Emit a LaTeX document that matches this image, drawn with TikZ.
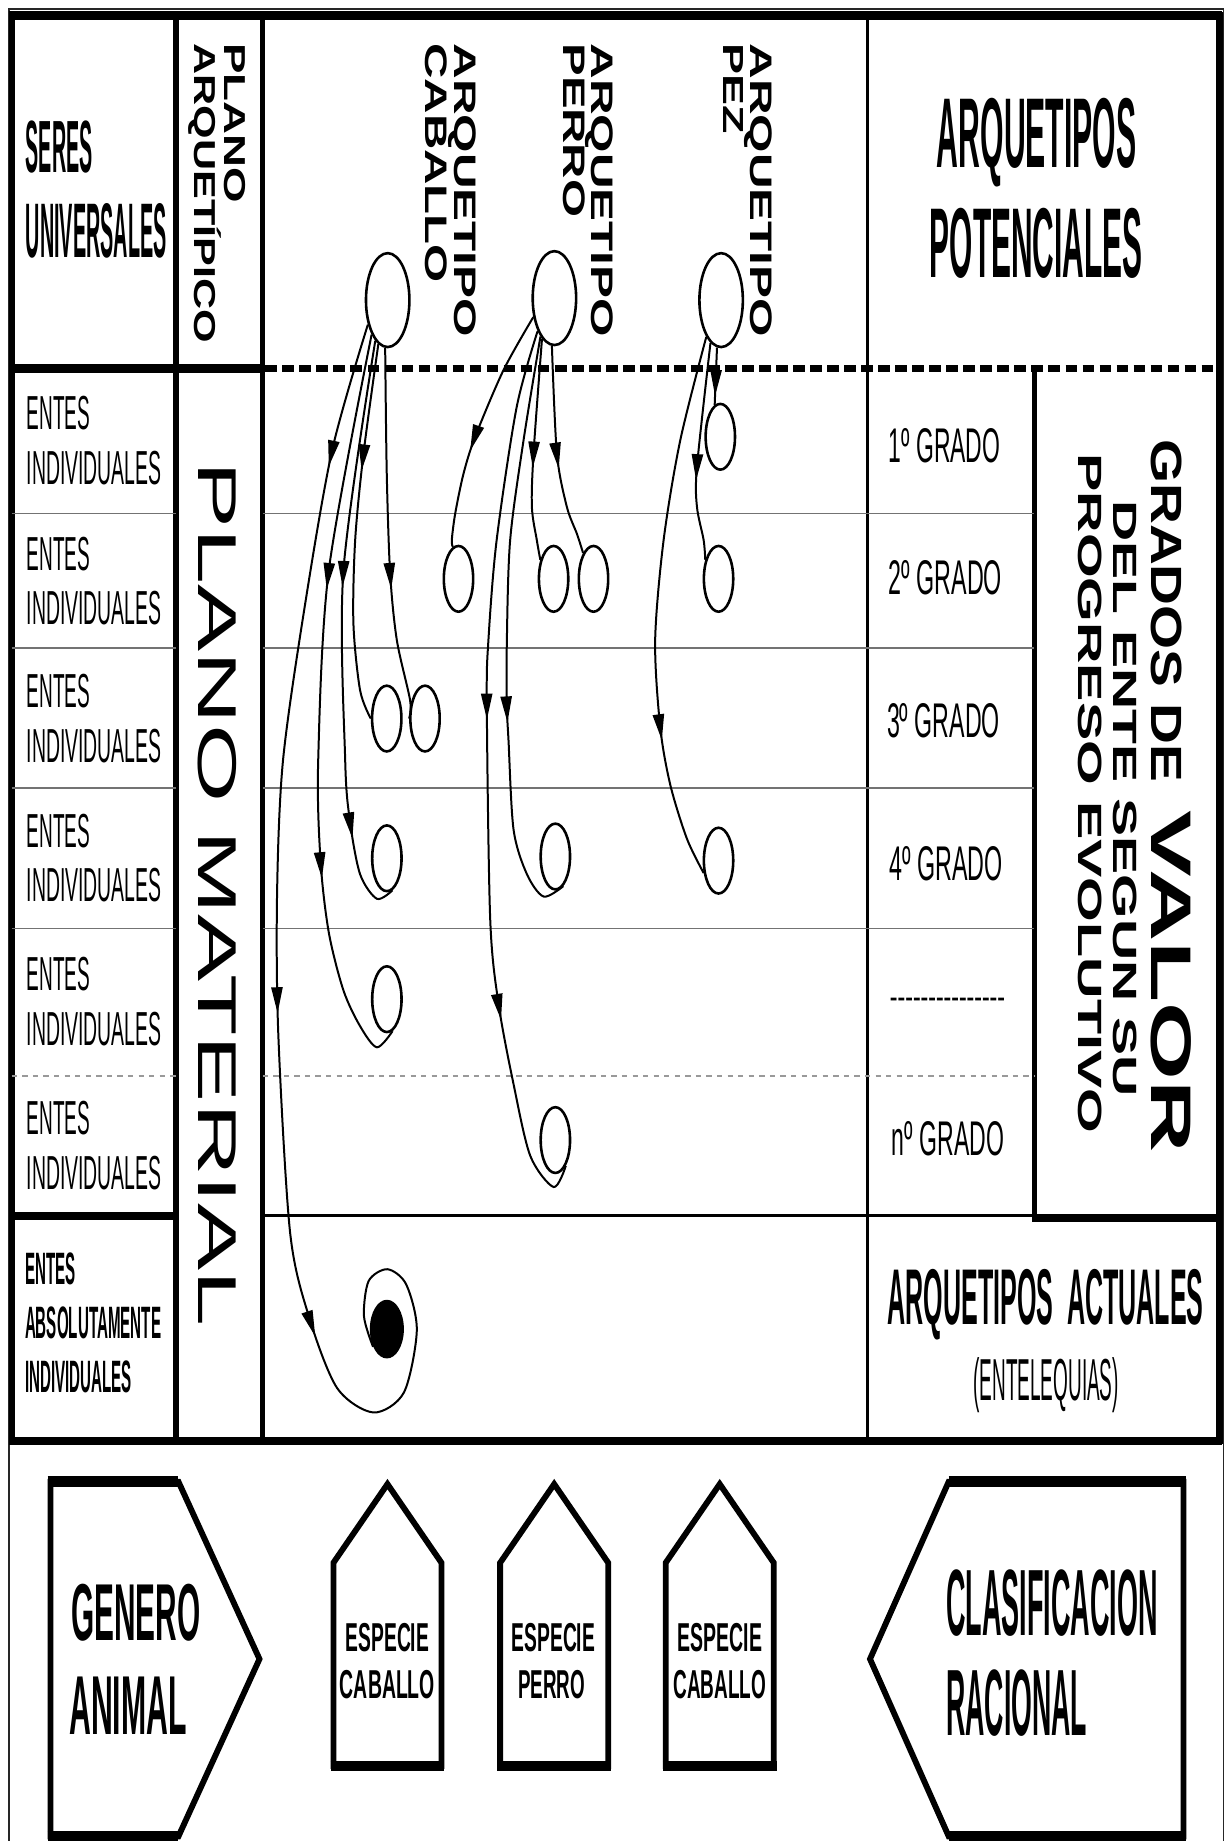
\documentclass[tikz,border=0pt]{standalone}
\usepackage{fontspec}
\setmainfont{Liberation Sans}
\usetikzlibrary{shapes.geometric,arrows.meta,decorations.markings}
\newcommand{\fitbox}[3]{\resizebox{#1pt}{#2pt}{#3}}
\newcommand{\fitw}[2]{\resizebox{#1pt}{!}{#2}}
\tikzset{
  tb/.style={inner sep=0pt, outer sep=0pt, anchor=base west},
  tbc/.style={inner sep=0pt, outer sep=0pt, anchor=base},
  tv/.style={inner sep=0pt, outer sep=0pt, anchor=north west, rotate=-90},
  arch/.style={ellipse, draw, line width=2.2pt, minimum width=37pt, minimum height=80pt, inner sep=0pt},
  ente/.style={ellipse, draw, line width=2.2pt, minimum width=25pt, minimum height=56pt, inner sep=0pt},
  flow/.style={line width=1.7pt},
  am/.style={postaction={decorate, decoration={markings, mark=at position #1 with {\fill[black] (2pt,0pt) -- (-20pt,5pt) -- (-20pt,-5pt) -- cycle;}}}},
  rowline/.style={line width=1.3pt, black!55},
  rowdash/.style={line width=1.3pt, black!40, dash pattern=on 4.5pt off 4.5pt},
  shp/.style={line width=5pt, line join=miter},
}
\begin{document}
\begin{tikzpicture}[x=1pt,y=-1pt]
\useasboundingbox (0,0) rectangle (1048,1568);
\fill[white] (0,0) rectangle (1048,1568);
% outer thin frame
\draw[line width=1.5pt, black!85] (7.5,1580) -- (7.5,7.5) -- (1042,7.5) -- (1042,1580);
% table frame
\draw[line width=5.5pt] (10,13) rectangle (1038.5,1227);
\draw[line width=8pt] (7.5,13) -- (1041,13);
\draw[line width=7pt] (7.5,1227) -- (1041,1227);
% columns
\draw[line width=4.5pt] (150,13) -- (150,1227);
\draw[line width=4pt] (223.7,13) -- (223.7,1227);
\draw[line width=3pt] (738.7,13) -- (738.7,1227);
% header bottom
\draw[line width=8pt] (10,314) -- (223.7,314);
\draw[line width=6pt, dash pattern=on 10pt off 4.5pt] (226,313.5) -- (1038,313.5);
% right box
\draw[line width=4pt] (881,313) -- (881,1041);
\draw[line width=7pt] (879,1037.7) -- (1038,1037.7);
% rows
\foreach \yy in {437.5,552,671,791}{
  \draw[rowline] (10,\yy) -- (150,\yy);
  \draw[rowline] (223.7,\yy) -- (881,\yy);
}
\draw[rowdash] (10,916.5) -- (150,916.5);
\draw[rowdash] (223.7,916.5) -- (881,916.5);
\draw[line width=7pt] (10,1035.7) -- (150,1035.7);
\draw[line width=2.5pt] (223.7,1035.3) -- (881,1035.3);

% ---- header texts
\node[tb] (seres) at (22,147) {\fitbox{57}{44}{\bfseries SERES}};
\node[tb] (univ) at (22,219) {\fitbox{120}{46}{\bfseries UNIVERSALES}};
\node[tb] (pot1) at (798,143) {\fitbox{170}{59}{\bfseries ARQUETIPOS}};
\node[tb] (pot2) at (792,236) {\fitbox{181}{59}{\bfseries POTENCIALES}};
\node[tv] (pl1) at (209,37) {\fitbox{136}{18}{\bfseries PLANO}};
\node[tv] (pl2) at (184,37) {\fitbox{255}{18}{\bfseries ARQUET\smash{Í}PICO}};
\node[tv] (ac1) at (406,37) {\fitbox{250}{18.5}{\bfseries ARQUETIPO}};
\node[tv] (ac2) at (381,37) {\fitbox{204}{18.5}{\bfseries CABALLO}};
\node[tv] (ap1) at (522,37) {\fitbox{250}{18.5}{\bfseries ARQUETIPO}};
\node[tv] (ap2) at (498.5,37) {\fitbox{148}{18.5}{\bfseries PERRO}};
\node[tv] (az1) at (658,37) {\fitbox{250}{18.5}{\bfseries ARQUETIPO}};
\node[tv] (az2) at (633,37) {\fitbox{77}{17}{\bfseries PEZ}};
\node[tv] (pm) at (201.5,393) {\fitbox{737}{32.5}{PLANO MATERIAL}};

% ---- left column
\foreach \c [count=\i] in {375,494.5,611.5,730.5,853,975.5}{
  \node[tb] (entes\i) at (22.7,\c-9) {\fitbox{54}{28.4}{ENTES}};
  \node[tb] (indiv\i) at (22.7,\c+37.5) {\fitbox{115}{28.4}{INDIVIDUALES}};
}
\node[tb] (abs1) at (21.3,1094) {\fitbox{43}{27}{\bfseries ENTES}};
\node[tb] (abs2) at (21.3,1140) {\fitbox{116}{27}{\bfseries ABSOLUTAMENTE}};
\node[tb] (abs3) at (21.3,1186) {\fitbox{91}{27}{\bfseries INDIVIDUALES}};

% ---- grados column
\node[tb] (g1) at (757,393.5) {\fitbox{95}{29}{1º GRADO}};
\node[tb] (g2) at (757,506.5) {\fitbox{96.5}{29}{2º GRADO}};
\node[tb] (g3) at (755.5,628.5) {\fitbox{96}{29}{3º GRADO}};
\node[tb] (g4) at (757.7,749.5) {\fitbox{96.5}{29}{4º GRADO}};
\node[tb] (g5) at (758,856) {\fitw{98}{\bfseries {-}{-}{-}{-}{-}{-}{-}{-}{-}{-}{-}{-}{-}{-}{-}}};
\node[tb] (g6) at (759.7,984.5) {\fitbox{95.5}{29}{nº GRADO}};
\node[tv] (gv1) at (1007,374) {\fitbox{292}{26}{\bfseries GRADOS DE}};
\node[tv] (gv2) at (1015,690) {\fitbox{292}{34}{\bfseries VALOR}};
\node[tv] (gv3) at (968.5,426) {\fitbox{508}{20}{\bfseries DEL ENTE SEGUN SU}};
\node[tv] (gv4) at (938.6,386) {\fitbox{579}{20}{\bfseries PROGRESO EVOLUTIVO}};
\node[tb] (act1) at (756,1128) {\fitbox{269}{47}{\bfseries ARQUETIPOS\hspace{0.55em}ACTUALES}};
\node[inner sep=0pt] (act2) at (891,1180) {\resizebox*{124pt}{47pt}{(ENTELEQUIAS)}};

% ---- archetype ellipses
\node[arch] (K0) at (330.2,255.6) {};
\node[arch] (P0) at (472.2,253.9) {};
\node[arch] (Z0) at (614.2,255.6) {};
\node[ente] (za) at (613.5,372) {};
\node[ente] (pa) at (390.5,493) {};
\node[ente] (pb) at (471.5,493) {};
\node[ente] (pc) at (505.5,493) {};
\node[ente] (zb) at (612,493) {};
\node[ente] (ka) at (329.4,612) {};
\node[ente] (kb) at (362,612) {};
\node[ente] (kc) at (329.5,731) {};
\node[ente] (pd) at (473,729.5) {};
\node[ente] (zc) at (612,733) {};
\node[ente] (kd) at (329.5,851) {};
\node[ente] (pe) at (473,971) {};
\node[ellipse, fill=black, minimum width=29pt, minimum height=50pt, inner sep=0pt] (dot) at (329.5,1132) {};

% ---- connectors: caballo
\draw[flow, am=0.104, am=0.5, am=0.735] plot[smooth, tension=0.5] coordinates {(K0.-129) (283,383) (259,520) (241,648) (236,760) (237,880) (247,1049) (263,1121) (287,1182) (318,1203) (344,1186) (355,1133) (346,1094) (330,1081) (314,1091) (310,1121) (dot.-128)};
\draw[flow, am=0.34, am=0.725] plot[smooth, tension=0.5] coordinates {(K0.-115) (280,486) (271,648) (273,733) (280,794) (292.5,843.5) (306.7,874) (321,892) (kd.-80)};
\draw[flow, am=0.42, am=0.85] plot[smooth, tension=0.5] coordinates {(K0.-107) (292.5,486) (294,647.5) (298,699) (306.7,744.6) (321,765.5) (kc.-80)};
\draw[flow, am=0.33] plot[smooth, tension=0.5] coordinates {(K0.-102) (309.6,386.3) (302.5,460) (301,531) (306.7,588) (ka.west)};
\draw[flow, am=0.64] plot[smooth, tension=0.5] coordinates {(K0.-93) (329.4,403.3) (332.3,488.5) (338,545.3) (349.3,596.5) (kb.west)};
% perro
\draw[flow, am=0.59] plot[smooth, tension=0.5] coordinates {(P0.-138) (428.8,315.3) (404.7,372) (394.8,403.3) (387.7,437.4) (384.8,460) (pa.100)};
\draw[flow, am=0.435, am=0.77] plot[smooth, tension=0.5] coordinates {(P0.-117) (440,347) (423,460) (416,545) (414.6,599.3) (417.5,782.6) (424.6,855) (437.4,923.4) (451.6,984.3) (471.5,1011) (pe.-68)};
\draw[flow, am=0.65] plot[smooth, tension=0.5] coordinates {(P0.-110) (445.9,375) (434.5,460) (431.7,545.3) (431.7,600.7) (433.1,630.5) (437.4,706.6) (448.8,744.6) (463,763.6) (pd.-75)};
\draw[flow, am=0.57] plot[smooth, tension=0.5] coordinates {(P0.-107) (454.4,386.3) (453,431.7) (457.2,460) (pb.125)};
\draw[flow, am=0.57] plot[smooth, tension=0.5] coordinates {(P0.-93) (474.3,386.3) (482.8,431.7) (491.5,455) (pc.112)};
% pez
\draw[flow, am=0.74] plot[smooth, tension=0.5] coordinates {(Z0.-112) (579.4,374.9) (565.2,460) (558,545.3) (562.3,619.2) (570.9,668.5) (585,714.2) (zc.-140)};
\draw[flow, am=0.62] plot[smooth, tension=0.5] coordinates {(Z0.-104) (593.6,397.6) (593.6,431.7) (599.3,460) (zb.125)};
\draw[flow, am=0.8] (Z0.-95) -- (za.100);

% ---- bottom shapes
\draw[shp] (43,1262) -- (152,1262) -- (221,1413) -- (152,1564) -- (43,1564) -- cycle;
\draw[line width=9pt] (40.5,1262) -- (152,1262);
\draw[line width=9pt] (40.5,1564) -- (152,1564);
\draw[shp] (284,1504) -- (284,1331) -- (330,1264) -- (376,1331) -- (376,1504) -- cycle;
\draw[line width=9pt] (281.5,1504) -- (378.5,1504);
\draw[shp] (426,1504) -- (426,1331) -- (472,1264) -- (518,1331) -- (518,1504) -- cycle;
\draw[line width=9pt] (423.5,1504) -- (520.5,1504);
\draw[shp] (567,1504) -- (567,1331) -- (613,1264) -- (659,1331) -- (659,1504) -- cycle;
\draw[line width=9pt] (564.5,1504) -- (661.5,1504);
\draw[shp] (1008,1262) -- (808,1262) -- (741,1413) -- (808,1564) -- (1008,1564) -- cycle;
\draw[line width=9pt] (808,1262) -- (1010.5,1262);
\draw[line width=9pt] (808,1564) -- (1010.5,1564);

\node[tb] (gen1) at (60.6,1397) {\fitbox{110}{48}{\bfseries GENERO}};
\node[tb] (gen2) at (59,1477) {\fitbox{100}{49}{\bfseries ANIMAL}};
\node[tbc] (e1a) at (330,1407) {\fitbox{71}{24}{\bfseries ESPECIE}};
\node[tbc] (e1b) at (330,1447) {\fitbox{81}{24}{\bfseries CABALLO}};
\node[tbc] (e2a) at (471.4,1407) {\fitbox{71}{24}{\bfseries ESPECIE}};
\node[tbc] (e2b) at (469.7,1447) {\fitbox{57}{24}{\bfseries PERRO}};
\node[tbc] (e3a) at (613.2,1407) {\fitbox{72}{24}{\bfseries ESPECIE}};
\node[tbc] (e3b) at (613.2,1447) {\fitbox{79}{24}{\bfseries CABALLO}};
\node[tb] (cl1) at (806,1393) {\fitbox{180}{56}{\bfseries CLASIFICACION}};
\node[tb] (cl2) at (806,1478) {\fitbox{120}{56}{\bfseries RACIONAL}};
\end{tikzpicture}
\end{document}
